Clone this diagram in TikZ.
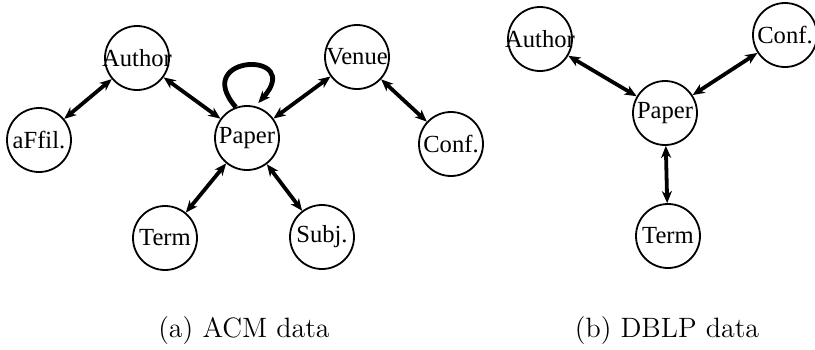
\documentclass[tikz,border=0pt]{standalone}
\usepackage{fontspec}
\newfontfamily\nodefont{Liberation Serif}
\usetikzlibrary{positioning, arrows.meta}

\begin{document}
\begin{tikzpicture}[
    x=0.5pt, y=-0.5pt,
    >={Stealth[length=6pt, width=5pt, inset=1.8pt]},
    entity/.style={
        draw=black, line width=0.9pt,
        circle, minimum size=32pt, inner sep=-1.8pt,
        font=\nodefont\fontsize{12.3}{14}\selectfont
    },
    link/.style={<->, line width=1.9pt, draw=black},
    selfloop/.style={->, line width=2.4pt, draw=black},
    subcap/.style={font=\fontsize{14}{16}\selectfont, anchor=base}
]
\useasboundingbox (0,0) rectangle (815,349);

% Nodes: ACM schema
\node[entity] (acmPaper) at (247,138) {Paper};
\node[entity] (acmAuthor) at (137,58) {Author};
\node[entity] (acmAffil) at (39,140) {aFfil.};
\node[entity] (acmVenue) at (357,57) {Venue};
\node[entity] (acmConf) at (451,144) {Conf.};
\node[entity] (acmTerm) at (165,238) {Term};
\node[entity] (acmSubj) at (322,237) {Subj.};

% Nodes: DBLP schema
\node[entity] (dblpPaper) at (665,113) {Paper};
\node[entity] (dblpAuthor) at (540,39) {Author};
\node[entity] (dblpConf) at (785,35) {Conf.};
\node[entity] (dblpTerm) at (668,236) {Term};

% Links
\draw[link] (acmAffil) -- (acmAuthor);
\draw[link] (acmAuthor) -- (acmPaper);
\draw[link] (acmPaper) -- (acmVenue);
\draw[link] (acmVenue) -- (acmConf);
\draw[link] (acmPaper) -- (acmTerm);
\draw[link] (acmPaper) -- (acmSubj);
\draw[selfloop] (acmPaper.110) .. controls +(-46,-53) and +(47,-53) .. ([yshift=2pt]acmPaper.70);

\draw[link] (dblpAuthor) -- (dblpPaper);
\draw[link] (dblpPaper) -- (dblpConf);
\draw[link] (dblpPaper) -- (dblpTerm);

% Sub-captions
\node[subcap] (capA) at (244,337) {(a)\ ACM data};
\node[subcap] (capB) at (667,337) {(b)\ DBLP data};

\end{tikzpicture}
\end{document}
